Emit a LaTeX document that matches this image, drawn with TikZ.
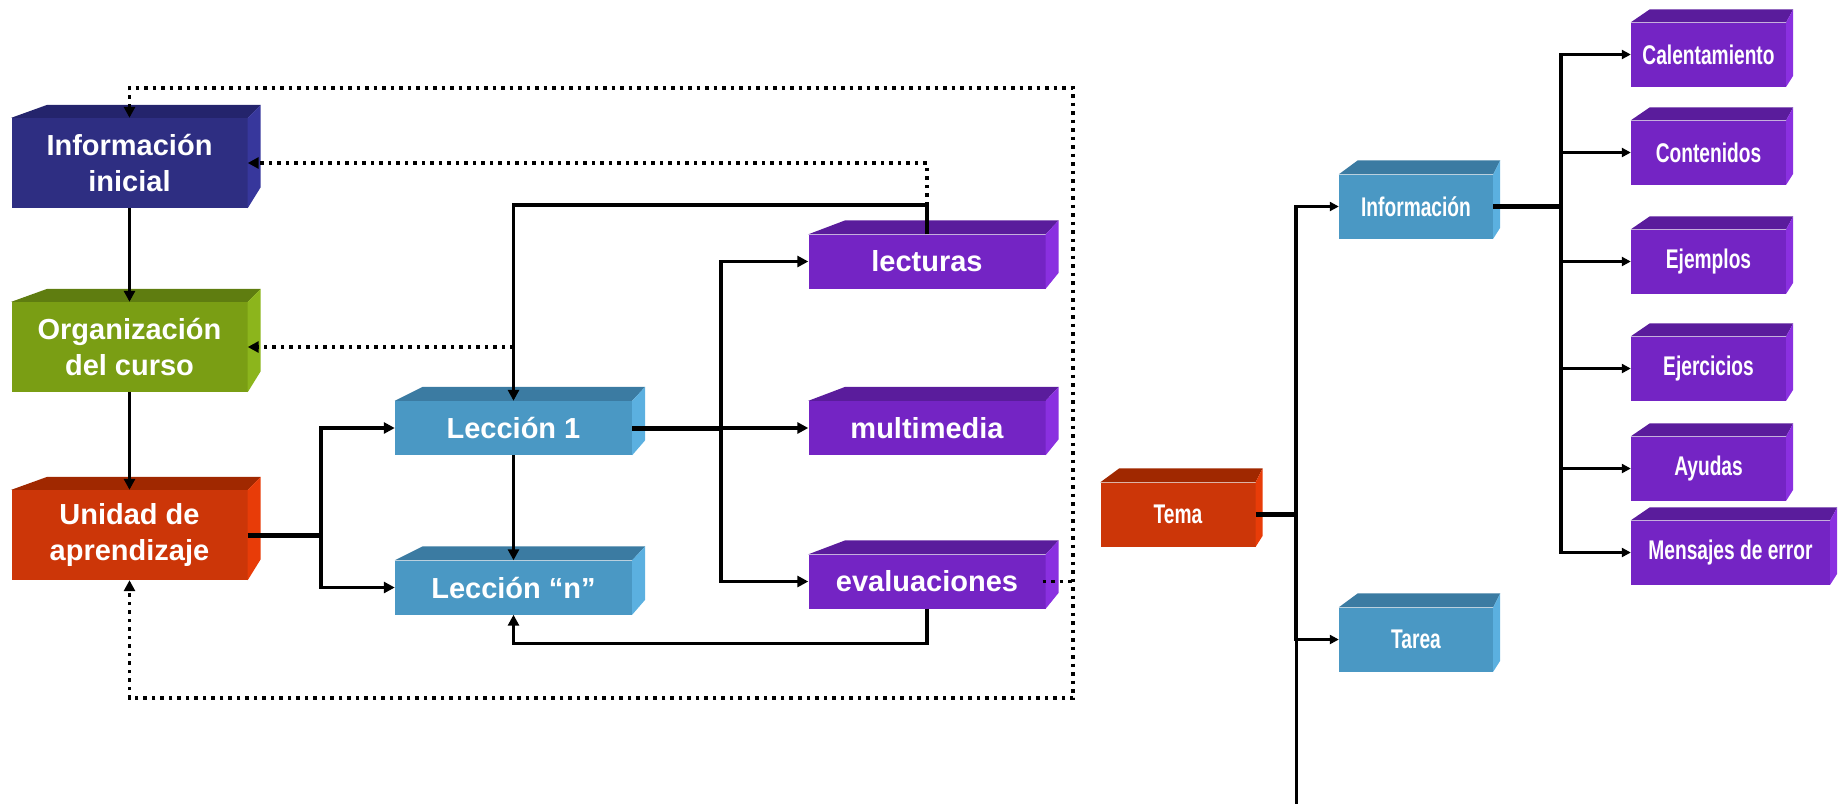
\documentclass[tikz,border=0pt]{standalone}
\usepackage{fontspec}
\setmainfont{Liberation Sans}
\newfontfamily\narrowfont[FakeStretch=0.71]{Liberation Sans}
\usetikzlibrary{arrows.meta,calc}
\definecolor{infoF}{HTML}{2E2E82}\definecolor{infoT}{HTML}{24246C}\definecolor{infoS}{HTML}{37379C}
\definecolor{orgF}{HTML}{7A9E14}\definecolor{orgT}{HTML}{5F7D10}\definecolor{orgS}{HTML}{8CB51C}
\definecolor{uniF}{HTML}{CC3608}\definecolor{uniT}{HTML}{A02800}\definecolor{uniS}{HTML}{E83C08}
\definecolor{lecF}{HTML}{4A98C4}\definecolor{lecT}{HTML}{3B7BA2}\definecolor{lecS}{HTML}{5BB0E0}
\definecolor{purF}{HTML}{7424C4}\definecolor{purT}{HTML}{5A1C9C}\definecolor{purS}{HTML}{8A30E0}
\newcommand\faces[7]{%
  \fill[#2] (#1.north west) -- ++(#4,-#6) -- ([shift={(#5,-#6)}]#1.north east) -- (#1.north east) -- cycle;
  \fill[#3] (#1.north east) -- ++(#5,-#6) -- ([shift={(#5,-#7)}]#1.south east) -- (#1.south east) -- cycle;}
\tikzset{
  box/.style={inner sep=0pt, text=white, align=center, font=\fontsize{29}{36}\selectfont\bfseries},
  lbig/.style={box, minimum width=236pt, minimum height=90pt},
  lsmall/.style={box, minimum width=237pt, minimum height=54pt},
  rbox/.style={inner sep=0pt, text=white, font=\narrowfont\fontsize{27}{32}\selectfont\bfseries, minimum width=155pt, minimum height=64pt},
  conn/.style={line width=3.2pt, draw=black},
  thickconn/.style={line width=5pt, draw=black},
  arr/.style={conn, -{Triangle[length=11pt,width=11pt]}},
  dotl/.style={line width=3.5pt, dash pattern=on 3.5pt off 5pt},
  dotarr/.style={dotl, -{Triangle[length=11pt,width=11pt]}},
  rline/.style={line width=3pt, draw=black},
  rthick/.style={line width=5pt, draw=black},
  rarr/.style={line width=3.5pt, -{Triangle[length=9pt,width=9pt]}},
}
\begin{document}
\begin{tikzpicture}[x=1pt,y=-1pt]
\useasboundingbox (0,0) rectangle (1846,804);
% ---------- left diagram ----------
\node[lbig, fill=infoF] (info) at (129.5,163) {Información\\inicial};
\node[lbig, fill=orgF] (org) at (129.5,347) {Organización\\del curso};
\node[lbig, fill=uniF] (uni) at (129.5,535) {Unidad de\\aprendizaje};
\node[lsmall, fill=lecF] (lec1) at (513.5,428) {Lección 1};
\node[lsmall, fill=lecF] (lecn) at (513.5,587.5) {Lección “n”};
\node[lsmall, fill=purF] (lect) at (927,261.5) {lecturas};
\node[lsmall, fill=purF] (multi) at (927,428) {multimedia};
\node[lsmall, fill=purF] (eval) at (927,581.5) {evaluaciones};
\faces{info}{infoT}{infoS}{36}{13}{13}{21}
\faces{org}{orgT}{orgS}{36}{13}{13}{21}
\faces{uni}{uniT}{uniS}{36}{13}{13}{21}
\faces{lec1}{lecT}{lecS}{28}{13}{14}{15}
\faces{lecn}{lecT}{lecS}{28}{13}{14}{15}
\faces{lect}{purT}{purS}{37}{13}{14}{16}
\faces{multi}{purT}{purS}{37}{13}{14}{16}
\faces{eval}{purT}{purS}{37}{13}{14}{16}
\coordinate (ju) at (321,535);
\coordinate (jl) at (721,428);
\coordinate (t1) at (927,205);
\coordinate (dtr) at (1073,88);
\coordinate (dbr) at (1073,698);
\draw[arr] (info.south) -- (org.north);
\draw[arr] (org.south) -- (uni.north);
\draw[thickconn] (uni.east) -- (ju);
\draw[arr] (ju) |- (lec1.west);
\draw[arr] (ju) |- (lecn.west);
\draw[arr] (lec1.south) -- (lecn.north);
\draw[thickconn] (lec1.east) -- (jl);
\draw[arr] (jl) -- (multi.west);
\draw[arr] (jl) |- (lect.west);
\draw[arr] (jl) |- (eval.west);
\draw[arr] (lect.north) -- (t1) -| (lec1.north);
\draw[arr] (eval.south) -- ++(0,35) -| (lecn.south);
\draw[dotarr] (t1) |- (info.east);
\draw[dotarr] (lec1.north |- org.east) -- (org.east);
\draw[dotl] ([xshift=-3pt]eval.east) -- (eval.east -| dtr);
\draw[dotl, {Triangle[length=11pt,width=11pt]}-{Triangle[length=11pt,width=11pt]}] (info.north) |- (dtr) -- (dbr) -| (uni.south);
% ---------- right diagram ----------
\node[rbox, fill=uniF] (tema) at (1178,514.5) {Tema};
\node[rbox, fill=lecF, minimum width=154pt] (infor) at (1416,206.5) {Información};
\node[rbox, fill=lecF, minimum width=154pt] (tarea) at (1416,639.5) {Tarea};
\node[rbox, fill=purF] (cal) at (1708.5,54.5) {Calentamiento};
\node[rbox, fill=purF] (cont) at (1708.5,152.5) {Contenidos};
\node[rbox, fill=purF] (ejem) at (1708.5,261.5) {Ejemplos};
\node[rbox, fill=purF] (ejer) at (1708.5,368.5) {Ejercicios};
\node[rbox, fill=purF] (ayu) at (1708.5,468.5) {Ayudas};
\node[rbox, fill=purF, minimum width=199pt] (mens) at (1730.5,552.5) {Mensajes de error};
\faces{tema}{uniT}{uniS}{19}{7}{14}{11}
\faces{infor}{lecT}{lecS}{19}{7}{14}{11}
\faces{tarea}{lecT}{lecS}{19}{7}{14}{11}
\foreach \n in {cal,cont,ejem,ejer,ayu,mens}{\faces{\n}{purT}{purS}{19}{7}{13}{11}}
\coordinate (rt) at (1296,514.5);
\coordinate (rbot) at (1296,804);
\coordinate (rj) at (1561,206.5);
\draw[rthick] (tema.east) -- (rt);
\draw[rline] (rt) -- (rbot);
\draw[rarr] (rt) |- (infor.west);
\draw[rarr] (rt) |- (tarea.west);
\draw[rthick] (infor.east) -- (rj);
\foreach \n in {cal,cont,ejem,ejer,ayu,mens}{\draw[rarr] (rj) |- (\n.west);}
\end{tikzpicture}
\end{document}
